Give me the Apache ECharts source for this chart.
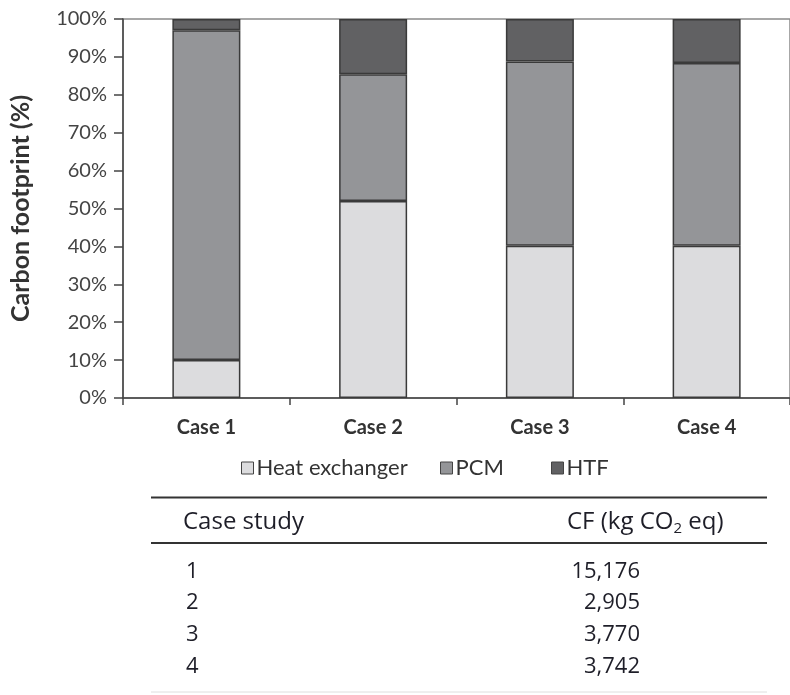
<!DOCTYPE html>
<html>
<head>
<meta charset="utf-8">
<title>Carbon footprint by case</title>
<script src="https://cdn.jsdelivr.net/npm/echarts@6/dist/echarts.min.js"></script>
<style>
  html, body { margin: 0; padding: 0; background: #ffffff; }
  #chart { width: 790px; height: 695px; }
</style>
</head>
<body>
<div id="chart"></div>
<script>
// Share of the carbon footprint (%) per component for each case
const categories = ['Case 1', 'Case 2', 'Case 3', 'Case 4'];
const heatExchanger = [10, 52, 40.2, 40.2];
const pcm = [87, 33.4, 48.6, 48.2];
const htf = [3, 14.6, 11.2, 11.6];
const yTicks = [0, 10, 20, 30, 40, 50, 60, 70, 80, 90, 100];

// Summary table: total carbon footprint per case study
const tableCases = ['1', '2', '3', '4'];
const tableCF = ['15,176', '2,905', '3,770', '3,742'];

const seriesNames = ['Heat exchanger', 'PCM', 'HTF'];
const seriesColors = ['#dcdcde', '#949598', '#616163'];
const seriesData = [heatExchanger, pcm, htf];

const labelFont = 'Lato, "Open Sans", sans-serif';
const tableFont = '"Open Sans", "Noto Sans", sans-serif';

const chart = echarts.init(document.getElementById('chart'), null, { renderer: 'canvas' });

const series = seriesNames.map((name, i) => ({
  name: name,
  type: 'bar',
  stack: 'cf',
  barWidth: 68,
  data: seriesData[i],
  itemStyle: { color: seriesColors[i], borderColor: '#3a3a3a', borderWidth: 1.5 },
  emphasis: { disabled: true }
}));

// One legend per entry so each can sit at its own offset
const legendLefts = [241, 440, 551];
const legends = seriesNames.map((name, i) => ({
  data: [name],
  left: legendLefts[i],
  top: 457,
  padding: 0,
  icon: 'rect',
  itemWidth: 12,
  itemHeight: 12,
  selectedMode: false,
  itemStyle: { borderColor: '#444', borderWidth: 1 },
  textStyle: { fontFamily: labelFont, fontSize: 22, color: '#333', padding: [0, 0, 0, -2] }
}));

// Table rows
const tableTop = 497.5, headerY = 522, midLine = 543, rowY = [571.5, 603, 634.5, 666.5], tableBottom = 692;
const tableGraphics = [
  { type: 'line', shape: { x1: 151, y1: tableTop, x2: 767, y2: tableTop }, style: { stroke: '#333', lineWidth: 2 } },
  { type: 'line', shape: { x1: 151, y1: midLine, x2: 767, y2: midLine }, style: { stroke: '#333', lineWidth: 2 } },
  { type: 'line', shape: { x1: 151, y1: tableBottom, x2: 767, y2: tableBottom }, style: { stroke: '#dedede', lineWidth: 1 } },
  { type: 'text', x: 183, y: headerY, style: { text: 'Case study', fontFamily: tableFont, fontSize: 24, fill: '#1e1e28', verticalAlign: 'middle', align: 'left' } },
  { type: 'text', x: 567, y: headerY, style: {
      text: 'CF (kg CO{sub|2} eq)', fontFamily: tableFont, fontSize: 24, fill: '#1e1e28', verticalAlign: 'middle', align: 'left',
      rich: { sub: { fontFamily: tableFont, fontSize: 15, fill: '#1e1e28', padding: [14, 0, 0, 0] } }
  } }
];
tableCases.forEach((c, i) => {
  tableGraphics.push({ type: 'text', x: 186, y: rowY[i], style: { text: c, fontFamily: tableFont, fontSize: 22, fill: '#1e1e28', verticalAlign: 'middle', align: 'left' } });
  tableGraphics.push({ type: 'text', x: 640, y: rowY[i], style: { text: tableCF[i], fontFamily: tableFont, fontSize: 22, fill: '#1e1e28', verticalAlign: 'middle', align: 'right' } });
});

const option = {
  animation: false,
  backgroundColor: '#ffffff',
  grid: {
    left: 115.5, top: 19, width: 683, height: 379,
    show: true, borderColor: '#8a8a8a', borderWidth: 1.5, backgroundColor: 'transparent'
  },
  legend: legends,
  xAxis: {
    type: 'category',
    data: categories,
    boundaryGap: true,
    axisLine: { lineStyle: { color: '#444', width: 1.5 } },
    axisTick: { show: true, length: 7, lineStyle: { color: '#444', width: 1.5 } },
    axisLabel: { fontFamily: labelFont, fontWeight: 'bold', fontSize: 20, color: '#333', margin: 20 },
    splitLine: { show: false }
  },
  yAxis: {
    type: 'value',
    min: yTicks[0],
    max: yTicks[yTicks.length - 1],
    interval: yTicks[1] - yTicks[0],
    name: 'Carbon footprint (%)',
    nameLocation: 'middle',
    nameRotate: 90,
    nameGap: 90,
    nameTextStyle: { fontFamily: labelFont, fontWeight: 'bold', fontSize: 25, color: '#333' },
    axisLine: { show: true, lineStyle: { color: '#444', width: 1.5 } },
    axisTick: { show: true, inside: false, length: 9, lineStyle: { color: '#444', width: 1.5 } },
    axisLabel: { fontFamily: labelFont, fontSize: 20, color: '#444', margin: 16, formatter: '{value}%' },
    splitLine: { show: false }
  },
  series: series,
  graphic: tableGraphics
};

chart.setOption(option);
</script>
</body>
</html>
